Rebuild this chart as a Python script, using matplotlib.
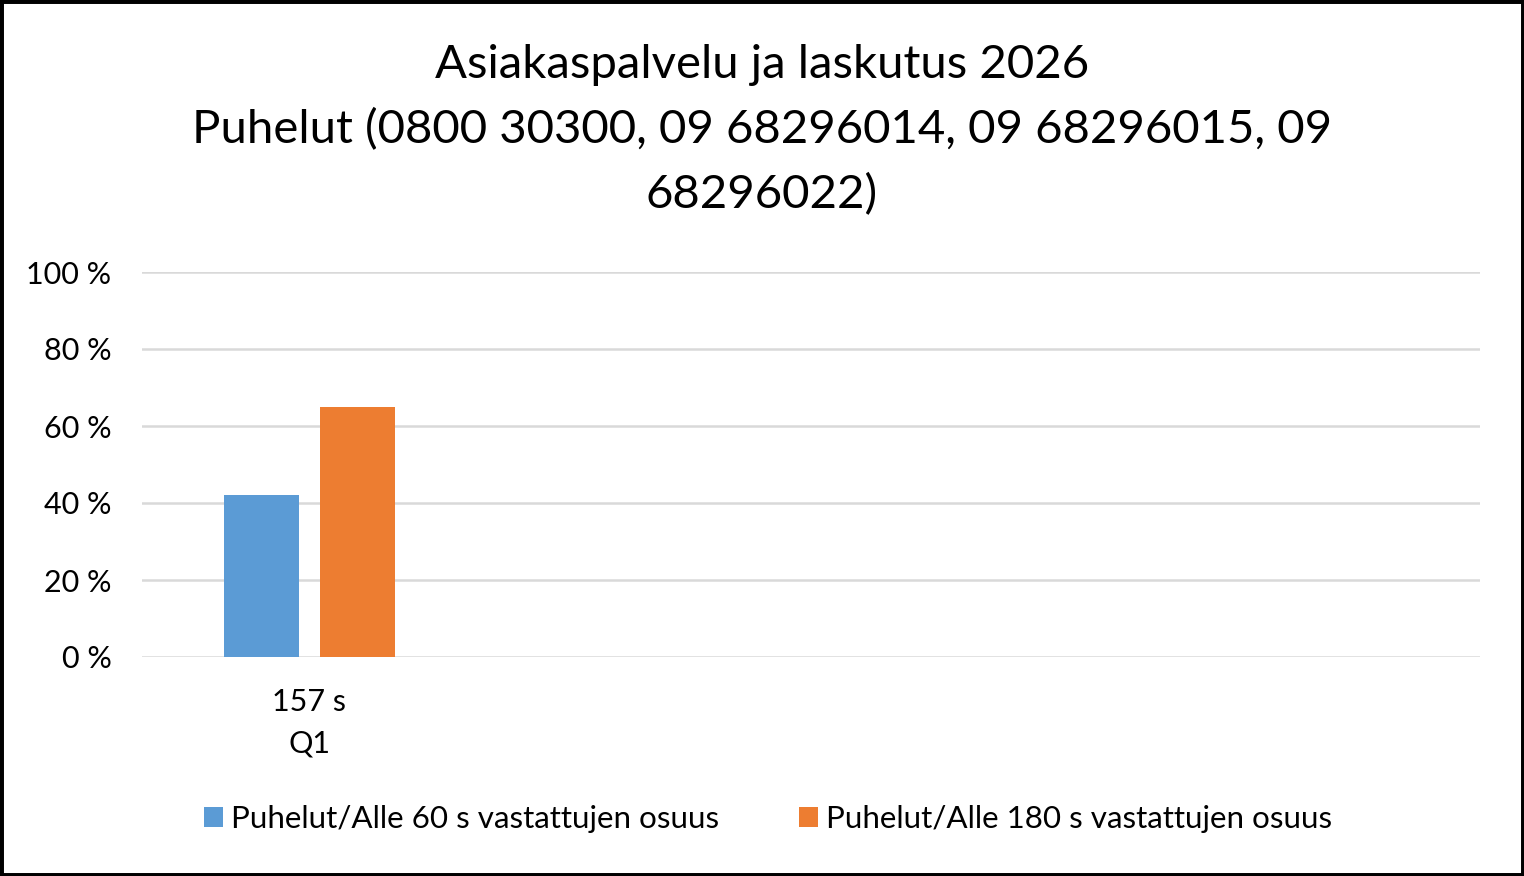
import matplotlib
matplotlib.use("Agg")
import matplotlib.pyplot as plt
from matplotlib.patches import Rectangle
from matplotlib.ticker import PercentFormatter
import numpy as np

plt.rcParams['font.family'] = ['Lato', 'DejaVu Sans']

categories = ["Q1", "Q2", "Q3", "Q4"]
avg_times = ["157 s", "", "", ""]
under_60 = [42, np.nan, np.nan, np.nan]
under_180 = [65, np.nan, np.nan, np.nan]
series_names = ["Puhelut/Alle 60 s vastattujen osuus",
                "Puhelut/Alle 180 s vastattujen osuus"]
title = ("Asiakaspalvelu ja laskutus 2026\n"
         "Puhelut (0800 30300, 09 68296014, 09 68296015, 09\n"
         "68296022)")

fig = plt.figure(figsize=(15.24, 8.76), dpi=100)
ax = fig.add_axes([142/1524, 1 - 657/876, (1480 - 142)/1524, (657 - 272)/876])

x = np.arange(len(categories))
w = 0.224
ax.bar(x - 0.143, under_60, width=w, color="#5B9BD5", label=series_names[0], zorder=3)
ax.bar(x + 0.143, under_180, width=w, color="#ED7D31", label=series_names[1], zorder=3)

ax.set_xlim(-0.5, len(categories) - 0.5)
ax.set_ylim(0, 100)
ax.set_yticks(np.arange(0, 101, 20))
ax.yaxis.set_major_formatter(PercentFormatter(decimals=0, symbol=" %"))
ax.set_xticks(x)
labels = [f"{t}\n{c}" if t else "" for t, c in zip(avg_times, categories)]
ax.set_xticklabels(labels, linespacing=1.6)
ax.tick_params(axis="both", length=0, labelsize=22, colors="black")
ax.tick_params(axis="y", pad=22)
ax.tick_params(axis="x", pad=22)
ax.grid(axis="y", color="#D9D9D9", linewidth=1.8, zorder=0)
for s in ax.spines.values():
    s.set_visible(False)

fig.text(0.5, 1 - 130/876, title, ha="center", va="center", fontsize=34, linespacing=1.63)

fig.legend(loc="center", bbox_to_anchor=(768/1524, 1 - 819/876), ncol=2, frameon=False,
           fontsize=22.6, handlelength=0.6, handleheight=0.6, handletextpad=0.25,
           columnspacing=2.55)

fig.add_artist(Rectangle((0, 0), 1, 1, transform=fig.transFigure, fill=False,
                         edgecolor="black", linewidth=5))

fig.savefig("out.png", dpi=100, facecolor="white")
